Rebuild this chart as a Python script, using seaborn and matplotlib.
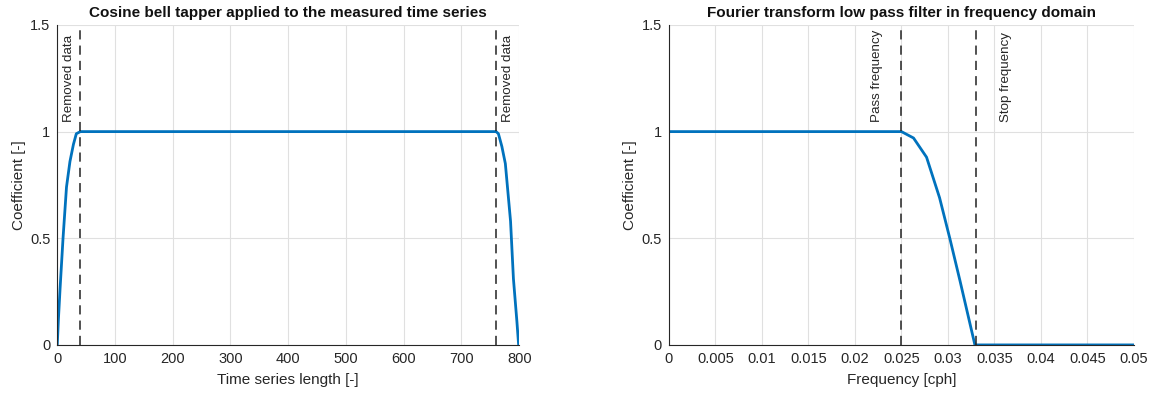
import numpy as np
import pandas as pd
import matplotlib
matplotlib.use("Agg")
import matplotlib.pyplot as plt
import seaborn as sns

# ---- data ----
taper_x = [0, 2, 5, 10, 16, 22, 28, 33, 40, 760, 764, 770, 776, 785, 790, 796, 799]
taper_y = [0, 0.12, 0.27, 0.5, 0.74, 0.86, 0.94, 0.99, 1.0, 1.0, 0.99, 0.93, 0.85, 0.58, 0.31, 0.11, 0.0]
removed_lines = [40, 760]
removed_label_x = [21, 781]

freq_x = [0, 0.025, 0.0263, 0.0277, 0.0291, 0.0302, 0.0313, 0.0324, 0.0329, 0.05]
freq_y = [1.0, 1.0, 0.97, 0.88, 0.69, 0.50, 0.30, 0.094, 0.0, 0.0]
pass_freq = 0.025
stop_freq = 0.033
pass_label_x = 0.0224
stop_label_x = 0.0362

left_xticks = [0, 100, 200, 300, 400, 500, 600, 700, 800]
right_xticks = [0, 0.005, 0.01, 0.015, 0.02, 0.025, 0.03, 0.035, 0.04, 0.045, 0.05]
right_xticklabels = ["0", "0.005", "0.01", "0.015", "0.02", "0.025", "0.03", "0.035", "0.04", "0.045", "0.05"]
yticks = [0, 0.5, 1, 1.5]
yticklabels = ["0", "0.5", "1", "1.5"]

sns.set_theme(style="white")
plt.rcParams['font.family'] = ['Liberation Sans', 'DejaVu Sans']

BLUE = "#0072BD"
TXT = "#262626"
AX = "#262626"
GRID = "#e0e0e0"

fig = plt.figure(figsize=(11.52, 3.96), dpi=100)
ax1 = fig.add_axes([0.0497, 0.129, 0.401, 0.808])
ax2 = fig.add_axes([0.5807, 0.129, 0.4036, 0.808])

df1 = pd.DataFrame({"x": taper_x, "y": taper_y})
df2 = pd.DataFrame({"x": freq_x, "y": freq_y})

sns.lineplot(data=df1, x="x", y="y", ax=ax1, color=BLUE, lw=2, estimator=None, sort=False)
sns.lineplot(data=df2, x="x", y="y", ax=ax2, color=BLUE, lw=2, estimator=None, sort=False)

def style(ax, xlim, xticks, xlabels, xlabel, title):
    ax.set_xlim(*xlim)
    ax.set_ylim(0, 1.5)
    ax.set_xticks(xticks)
    if xlabels is not None:
        ax.set_xticklabels(xlabels)
    ax.set_yticks(yticks)
    ax.set_yticklabels(yticklabels)
    ax.grid(True, color=GRID, lw=0.8)
    ax.set_axisbelow(True)
    for s in ["top", "right"]:
        ax.spines[s].set_visible(False)
    for s in ["left", "bottom"]:
        ax.spines[s].set_color(AX)
        ax.spines[s].set_linewidth(0.8)
    ax.tick_params(axis="both", direction="in", length=5, width=0.8, colors=AX,
                   labelsize=10.5, labelcolor=TXT, pad=5)
    ax.set_xlabel(xlabel, fontsize=11, color=TXT, labelpad=5)
    ax.set_ylabel("Coefficient [-]", fontsize=11, color=TXT, labelpad=3)
    ax.set_title(title, fontsize=11, fontweight="bold", color="#111111", pad=6)

style(ax1, (0, 800), left_xticks, None, "Time series length [-]",
      "Cosine bell tapper applied to the measured time series")
style(ax2, (0, 0.05), right_xticks, right_xticklabels, "Frequency [cph]",
      "Fourier transform low pass filter in frequency domain")

dash = (0, (6, 4))
for xv in removed_lines:
    ax1.axvline(xv, color="#222222", lw=1.1, ls=dash)
for lx in removed_label_x:
    ax1.text(lx, 1.045, "Removed data", rotation=90, ha="center", va="bottom",
             fontsize=9.6, color=TXT)

ax2.axvline(pass_freq, color="#222222", lw=1.1, ls=dash)
ax2.axvline(stop_freq, color="#222222", lw=1.1, ls=dash)
ax2.text(pass_label_x, 1.045, "Pass frequency", rotation=90, ha="center", va="bottom",
         fontsize=9.6, color=TXT)
ax2.text(stop_label_x, 1.045, "Stop frequency", rotation=90, ha="center", va="bottom",
         fontsize=9.6, color=TXT)

fig.savefig("out.png", dpi=100)
